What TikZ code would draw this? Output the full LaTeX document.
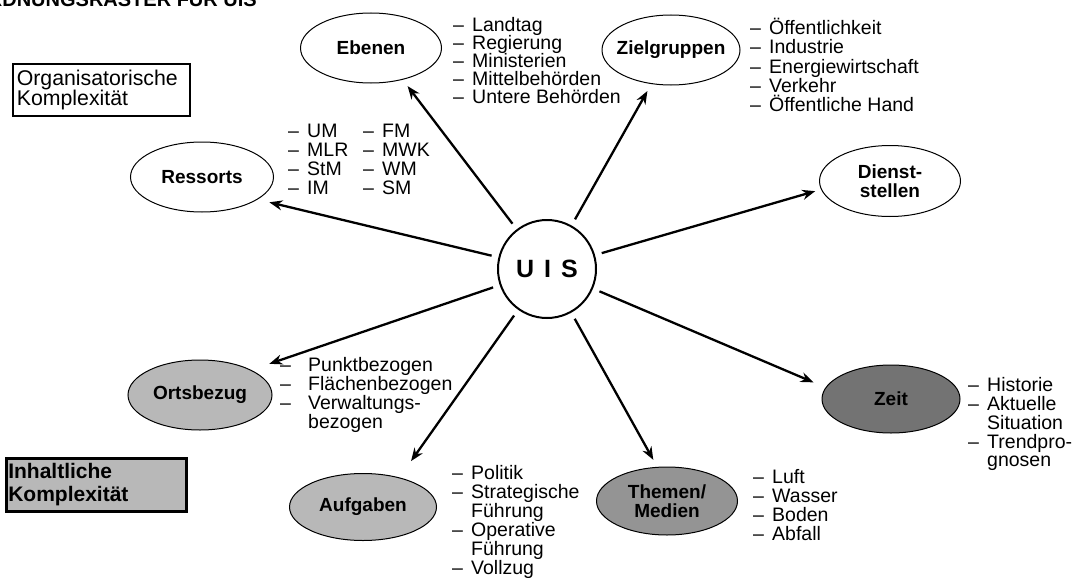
\documentclass[tikz,border=0pt]{standalone}
\usepackage{fontspec}
\setmainfont{Liberation Sans}
\usetikzlibrary{shapes.geometric,arrows.meta}

% type sizes
\newcommand\listfont{\fontsize{19.5}{18.8}\selectfont\lineskiplimit=-100pt}
\newcommand\ovalfont{\bfseries\fontsize{19}{18.5}\selectfont\lineskiplimit=-100pt}
\newcommand\hubfont{\bfseries\fontsize{25}{25}\selectfont}
\newcommand\titlefont{\bfseries\fontsize{20}{20}\selectfont}
\newcommand\boxfont{\fontsize{21.3}{20}\selectfont\lineskiplimit=-100pt}
\newcommand\boldboxfont{\bfseries\fontsize{21}{23}\selectfont\lineskiplimit=-100pt}

% list item with dash, and continuation line
\newcommand\ldash[1][19pt]{\makebox[#1][l]{–}}
\newcommand\lcont[1][19pt]{\hspace*{#1}}
% fixed height of a list's first line
\newcommand\lfirst{\rule{0pt}{18pt}}
% centred label that does not widen its ellipse
\newcommand\lbl[1]{\makebox[0pt]{#1}}

\definecolor{lightstipple}{gray}{0.72}
\definecolor{midstipple}{gray}{0.58}
\definecolor{darkstipple}{gray}{0.45}
\definecolor{boxgray}{gray}{0.72}

\begin{document}
\begin{tikzpicture}[x=1pt,y=-1pt,
  oval/.style={ellipse, draw, line width=1pt, inner sep=0pt,
    minimum width=141pt, minimum height=70pt, font=\ovalfont, align=center},
  hub/.style={circle, draw, line width=2pt, minimum size=98pt, inner sep=0pt, font=\hubfont},
  ray/.style={-{Stealth[length=13pt,width=10pt]}, line width=2.3pt, shorten <=7pt},
  itemlist/.style={anchor=north west, inner sep=0pt, align=left, font=\listfont},
  panel/.style={anchor=north west, inner ysep=0pt, align=left}]
\useasboundingbox (0,0) rectangle (1076,578);
\clip (0,0) rectangle (1076,578);

% heading, partly outside the sheet
\node[anchor=base east, inner sep=0pt, font=\titlefont] (title) at (257,7) {ORDNUNGSRASTER FÜR UIS};

% side labels
\node[panel, draw, line width=1.6pt, text width=169pt, inner xsep=4pt,
  minimum height=52pt, font=\boxfont] (orgbox) at (12,63)
  {Organisatorische\\Komplexität};
\node[panel, draw, fill=boxgray, line width=2.6pt, text width=176pt, inner xsep=2pt,
  minimum height=53pt, font=\boldboxfont] (inhbox) at (5,457)
  {Inhaltliche\\Komplexität};

% centre
\node[hub] (uis) at (547,269) {U\hspace{10pt}I\hspace{10pt}S};

% organisational dimensions
\node[oval] (ebenen) at (371,48) {\lbl{Ebenen}};
\node[oval, minimum width=138pt] (ziel) at (671,50) {\lbl{Zielgruppen}};
\node[oval, minimum width=143pt] (ressorts) at (202,177) {\lbl{Ressorts}};
\node[oval, minimum height=71pt] (dienst) at (890,181) {\lbl{Dienst-}\\\lbl{stellen}};

% content dimensions
\node[oval, fill=lightstipple, minimum width=144pt] (orts) at (200,395) {\lbl{Ortsbezug}};
\node[oval, fill=lightstipple, minimum width=147pt, minimum height=67pt] (aufg) at (363,507) {\lbl{Aufgaben}};
\node[oval, fill=midstipple, minimum height=68pt] (themen) at (667,501) {\lbl{Themen/}\\\lbl{Medien}};
\node[oval, fill=darkstipple, minimum width=138pt, minimum height=68pt] (zeit) at (891,399) {\lbl{Zeit}};

% item lists
\node[itemlist, font={\listfont\baselineskip=18pt}] (ebenenlist) at (453,13.5)
  {\lfirst\ldash Landtag\\\ldash Regierung\\\ldash Ministerien\\\ldash Mittelbehörden\\\ldash Untere Behörden};
\node[itemlist, font={\listfont\baselineskip=19.2pt}] (ziellist) at (750,16.5)
  {\lfirst\ldash Öffentlichkeit\\\ldash Industrie\\\ldash Energiewirtschaft\\\ldash Verkehr\\\ldash Öffentliche Hand};
\node[itemlist, font={\listfont\baselineskip=19pt}] (ressortsA) at (288,119.5)
  {\lfirst\ldash UM\\\ldash MLR\\\ldash StM\\\ldash IM};
\node[itemlist, font={\listfont\baselineskip=19pt}] (ressortsB) at (363,119.5)
  {\lfirst\ldash FM\\\ldash MWK\\\ldash WM\\\ldash SM};
\node[itemlist, font={\listfont\baselineskip=19pt}] (ortslist) at (280,353.5)
  {\lfirst\ldash[28pt]Punktbezogen\\\ldash[28pt]Flächenbezogen\\\ldash[28pt]Verwaltungs-\\\lcont[28pt]bezogen};
\node[itemlist, font={\listfont\baselineskip=19pt}] (aufglist) at (452,461.5)
  {\lfirst\ldash Politik\\\ldash Strategische\\\lcont Führung\\\ldash Operative\\\lcont Führung\\\ldash Vollzug};
\node[itemlist] (themenlist) at (753,465.5)
  {\lfirst\ldash Luft\\\ldash Wasser\\\ldash Boden\\\ldash Abfall};
\node[itemlist] (zeitlist) at (968,373.5)
  {\lfirst\ldash Historie\\\ldash Aktuelle\\\lcont Situation\\\ldash Trendpro-\\\lcont gnosen};

% rays from the centre
\draw[ray, shorten >=8pt]  (uis) -- (ebenen.-45);
\draw[ray, shorten >=8pt]  (uis) -- (ziel.-120);
\draw[ray, shorten >=12pt] (uis) -- (ressorts.-22);
\draw[ray, shorten >=6pt]  (uis) -- (dienst.-173);
\draw[ray, shorten >=19pt] (uis) -- (orts.26);
\draw[ray, shorten >=20pt] (uis) -- (aufg.39);
\draw[ray, shorten >=8pt]  (uis) -- (themen.106);
\draw[ray, shorten >=13pt] (uis) -- (zeit.170);
\end{tikzpicture}
\end{document}
